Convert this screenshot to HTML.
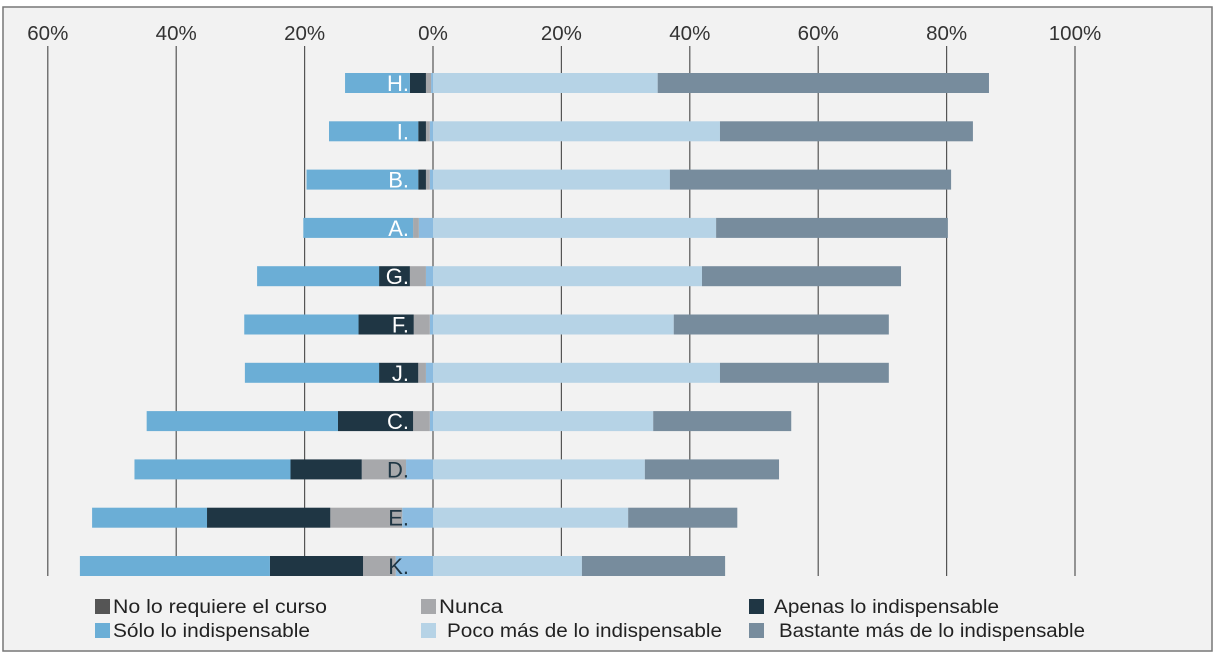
<!DOCTYPE html>
<html><head><meta charset="utf-8"><style>
html,body{margin:0;padding:0;background:#fff;}
svg{display:block;font-family:"Liberation Sans",sans-serif;}
</style></head><body>
<svg id="chart" width="1215" height="657">
<rect x="3" y="7" width="1209" height="644" fill="#f2f2f2" stroke="#777" stroke-width="1.5"/>
<g id="grid"></g><g id="bars"></g><g id="legend"></g>
</svg>
<script>
const categories=["H.","I.","B.","A.","G.","F.","J.","C.","D.","E.","K."];
const midLeft=[0.3,0.5,0.5,2.2,1.1,0.5,1.1,0.5,4.2,4.8,5.8];
const nunca=[0.8,0.6,0.6,0.9,2.5,2.5,1.2,2.6,6.9,11.2,5.1];
const apenas=[2.5,1.2,1.2,0,4.8,8.6,6.1,11.7,11.1,19.2,14.5];
const solo=[10.1,13.9,17.4,17.1,19.0,17.8,20.9,29.8,24.3,17.9,29.6];
const poco=[35.0,44.7,36.9,44.1,41.9,37.5,44.7,34.3,33.0,30.4,23.2];
const bastante=[51.6,39.4,43.8,36.1,31.0,33.5,26.3,21.5,20.9,17.0,22.3];
const ticks=[-60,-40,-20,0,20,40,60,80,100];
const tickLabels=["60%","40%","20%","0%","20%","40%","60%","80%","100%"];
const darkText=[false,false,false,false,false,false,false,false,true,true,true];

const NS="http://www.w3.org/2000/svg";
const x0=433, pxPer=6.42;
function xs(v){return x0+v*pxPer;}
function ys(i){return 83+i*48.3;}
function mk(tag,attrs,parent){const e=document.createElementNS(NS,tag);for(const k in attrs)e.setAttribute(k,attrs[k]);parent.appendChild(e);return e;}
const grid=document.getElementById('grid');
ticks.forEach((t,i)=>{
  const l=mk('line',{x1:xs(t),x2:xs(t),y1:46,y2:576,stroke:'#555','stroke-width':1.2},grid);
  
  
  const tx=mk('text',{x:xs(t),y:40,'text-anchor':'middle','font-size':20.5,fill:'#333'},grid);
  tx.textContent=tickLabels[i];
  
  
});
const bars=document.getElementById('bars');
const C={mid:'#8bbbe0',nunca:'#a7a8ab',apenas:'#1f3644',solo:'#6baed6',poco:'#b6d3e6',bast:'#778c9d'};
categories.forEach((c,i)=>{
  const y=ys(i)-10,h=20;
  let cur=0;
  const left=[[midLeft[i],C.mid],[nunca[i],C.nunca],[apenas[i],C.apenas],[solo[i],C.solo]];
  left.forEach(([v,col])=>{
    const r=mk('rect',{x:xs(-(cur+v)),y:y,width:v*pxPer,height:h,fill:col},bars);
    
    
    cur+=v;
  });
  const r1=mk('rect',{x:xs(0),y:y,width:poco[i]*pxPer,height:h,fill:C.poco},bars);
  
  
  const r2=mk('rect',{x:xs(poco[i]),y:y,width:bastante[i]*pxPer,height:h,fill:C.bast},bars);
  
  
  const t=mk('text',{x:409,y:ys(i)+8,'text-anchor':'end','font-size':22,fill:darkText[i]?'#1f3644':'#fff'},bars);
  t.textContent=c;
  
  
});
const legendItems=[["No lo requiere el curso","#555",95,607,18,214],["Nunca","#a7a8ab",421,607,18,64],["Apenas lo indispensable","#1f3644",749,607,25,225],
["Sólo lo indispensable","#6baed6",95,631,18,197],["Poco más de lo indispensable","#b6d3e6",421,631,26,275],["Bastante más de lo indispensable","#778c9d",749,631,30,306]];
const lg=document.getElementById('legend');
legendItems.forEach(([txt,col,x,y,off,w])=>{
  const s=mk('rect',{x:x,y:y-8,width:15,height:15,fill:col},lg);
  
  
  const t=mk('text',{x:x+off,y:y+6,'font-size':19,fill:'#222',textLength:w,lengthAdjust:'spacingAndGlyphs'},lg);
  t.textContent=txt;
  
  
});
</script>
</body></html>
